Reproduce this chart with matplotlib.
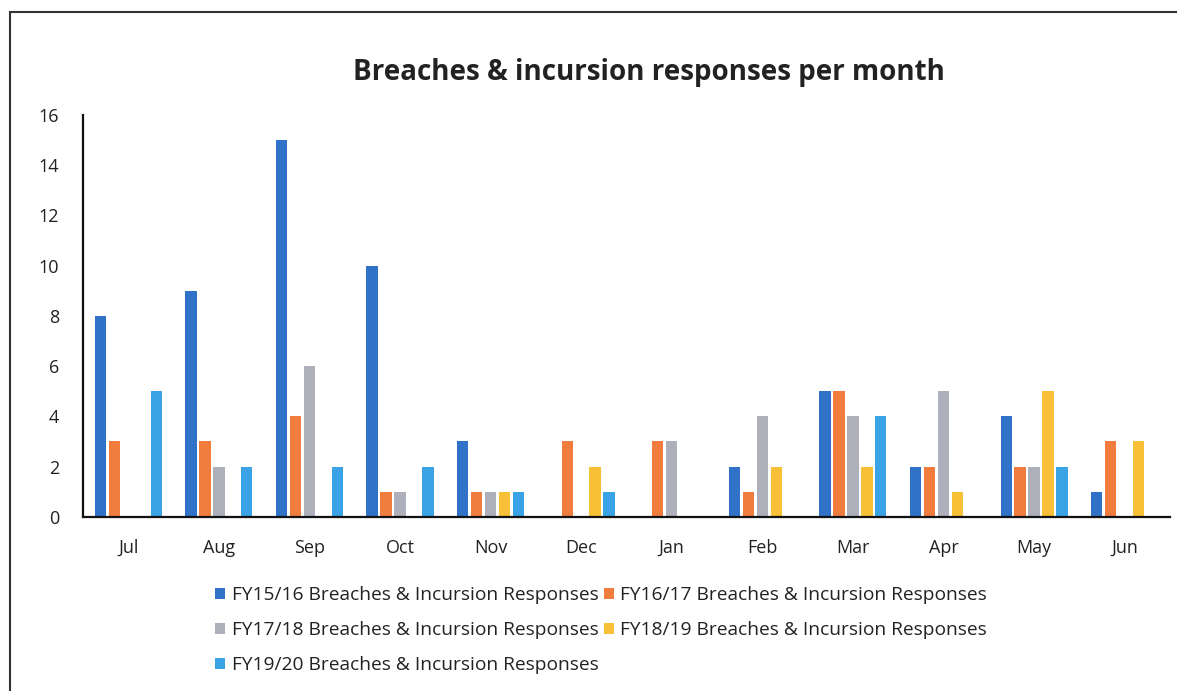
import matplotlib
matplotlib.use("Agg")
import matplotlib.pyplot as plt
import numpy as np
from matplotlib.patches import Rectangle

months = ["Jul", "Aug", "Sep", "Oct", "Nov", "Dec", "Jan", "Feb", "Mar", "Apr", "May", "Jun"]
series_names = [
    "FY15/16 Breaches & Incursion Responses",
    "FY16/17 Breaches & Incursion Responses",
    "FY17/18 Breaches & Incursion Responses",
    "FY18/19 Breaches & Incursion Responses",
    "FY19/20 Breaches & Incursion Responses",
]
fy1516 = [8, 9, 15, 10, 3, 0, 0, 2, 5, 2, 4, 1]
fy1617 = [3, 3, 4, 1, 1, 3, 3, 1, 5, 2, 2, 3]
fy1718 = [0, 2, 6, 1, 1, 0, 3, 4, 4, 5, 2, 0]
fy1819 = [0, 0, 0, 0, 1, 2, 0, 2, 2, 1, 5, 3]
fy1920 = [5, 2, 2, 2, 1, 1, 0, 0, 4, 0, 2, 0]
series = [fy1516, fy1617, fy1718, fy1819, fy1920]
colors = ["#2f72c8", "#f07d3e", "#adb0ba", "#f7c036", "#3aa3e6"]
yticks = [0, 2, 4, 6, 8, 10, 12, 14, 16]

plt.rcParams['font.family'] = ['Open Sans', 'DejaVu Sans']

fig = plt.figure(figsize=(11.77, 6.91), dpi=100)
ax = fig.add_axes([0.0705, 0.252, 0.9235, 0.582])

x = np.arange(len(months))
slot = 0.154
bw = 0.125
handles = []
for i, (vals, name, c) in enumerate(zip(series, series_names, colors)):
    b = ax.bar(x + (i - 2) * slot, vals, width=bw, color=c, label=name, zorder=2)
    handles.append(b)

ax.set_xlim(-0.5, 11.5)
ax.set_ylim(0, 16)
ax.set_yticks(yticks)
ax.set_xticks(x)
ax.set_xticklabels(months)
ax.tick_params(axis='both', length=0, labelsize=13, colors='#222222')
ax.tick_params(axis='x', pad=16)
ax.tick_params(axis='y', pad=17)
for s in ['top', 'right']:
    ax.spines[s].set_visible(False)
for s in ['left', 'bottom']:
    ax.spines[s].set_color('#111111')
    ax.spines[s].set_linewidth(1.6)

fig.text(0.551, 0.895, "Breaches & incursion responses per month", ha='center', va='center',
         fontsize=20, fontweight='bold', color='#222222')

order = [0, 2, 4, 1, 3]
leg = fig.legend([handles[k] for k in order], [series_names[k] for k in order],
                 loc='upper left', bbox_to_anchor=(0.183, 0.152), ncol=2, frameon=False,
                 fontsize=13.8, handlelength=0.5, handleheight=0.5, handletextpad=0.35,
                 columnspacing=0.3, labelspacing=0.9, borderaxespad=0, borderpad=0)
for t in leg.get_texts():
    t.set_color('#222222')

fig.patches.append(Rectangle((0.0085, -0.1), 1.2, 1.082, transform=fig.transFigure,
                             fill=False, edgecolor='#333333', linewidth=1.5))

fig.savefig("out.png", dpi=100)
